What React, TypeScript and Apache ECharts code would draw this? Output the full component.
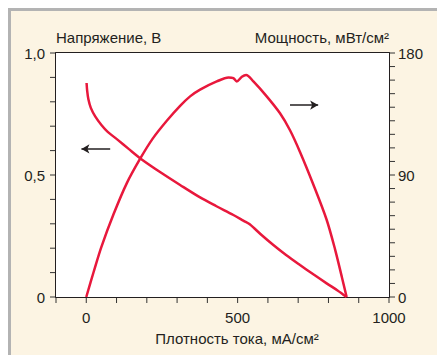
import React, { useEffect, useRef } from "react";
import * as echarts from "echarts";

const FONT = '"Liberation Sans", Arial, Helvetica, sans-serif';
const INK = "#231f20";
const RED = "#e8183c";

// Current density, mA/cm² (x) and cell voltage, V (left axis)
const voltageX = [1, 3, 7, 15, 30, 50, 70, 105, 140, 181, 250, 310, 376, 430, 486, 520, 540, 580, 618, 660, 706, 750, 794, 830, 860];
const voltageY = [0.877, 0.845, 0.81, 0.775, 0.739, 0.705, 0.678, 0.643, 0.607, 0.566, 0.507, 0.459, 0.408, 0.372, 0.336, 0.312, 0.298, 0.253, 0.213, 0.172, 0.131, 0.093, 0.056, 0.027, 0];

// Current density, mA/cm² (x) and power density, mW/cm² (right axis)
const powerX = [0, 25, 50, 90, 134, 178, 220, 266, 310, 343, 376, 431, 470, 486, 497, 514, 528, 552, 596, 640, 673, 706, 750, 794, 822, 844, 860];
const powerY = [0, 19, 37, 61, 84, 102, 117, 130, 141, 148, 153, 159, 162, 161.5, 159, 162.5, 163.8, 159, 148, 135.5, 123, 107, 83, 57, 35, 15, 0];

// Labelled ticks
const xTickLabels = [0, 500, 1000];
const leftTickLabels = [0, 0.5, 1.0];
const rightTickLabels = [0, 90, 180];

// All tick marks
const xTickValues = [-100, 0, 100, 200, 300, 400, 500, 600, 700, 800, 900, 1000];
const leftTickValues = [0, 0.1, 0.2, 0.3, 0.4, 0.5, 0.6, 0.7, 0.8, 0.9, 1.0];
const rightTickValues = [0, 10, 20, 30, 40, 50, 60, 70, 80, 90, 100, 110, 120, 130, 140, 150, 160, 170, 180];

const leftTitle = "Напряжение, В";
const rightTitle = "Мощность, мВт/см²";
const bottomTitle = "Плотность тока, мА/см²";

// Arrow annotations (data coordinates)
const leftArrow = { x0: -16, x1: 79, v: 0.607 };
const rightArrow = { x0: 673, x1: 766, p: 141.6 };

const X_MIN = -100;
const X_MAX = 1000;

function tickSeries(
  data: number[][],
  yAxisIndex: number,
  dir: "down" | "left" | "right"
) {
  return {
    type: "custom",
    xAxisIndex: 0,
    yAxisIndex,
    silent: true,
    clip: false,
    z: 10,
    data,
    renderItem: (_params: any, api: any) => {
      const p = api.coord([api.value(0), api.value(1)]);
      const L = 5;
      let shape;
      if (dir === "down") shape = { x1: p[0], y1: p[1] + 1, x2: p[0], y2: p[1] + 1 + L };
      else if (dir === "left") shape = { x1: p[0] - 1, y1: p[1], x2: p[0] - 1 - L, y2: p[1] };
      else shape = { x1: p[0] + 1, y1: p[1], x2: p[0] + 1 + L, y2: p[1] };
      return { type: "line", shape, style: { stroke: "#333", lineWidth: 1 } };
    },
  };
}

export default function App() {
  const ref = useRef<HTMLDivElement>(null);

  useEffect(() => {
    const chart = echarts.init(ref.current!, null, { renderer: "svg" });
    const labelStyle = { fontSize: 15, fontFamily: FONT, color: INK };
    const axisLine = { show: true, onZero: false, lineStyle: { color: INK, width: 2 } };
    chart.setOption({
      animation: false,
      grid: { left: 56, right: 48, top: 53, bottom: 58 },
      xAxis: [
        {
          type: "value",
          position: "bottom",
          min: X_MIN,
          max: X_MAX,
          interval: 100,
          axisLine: { ...axisLine },
          axisTick: { show: false },
          splitLine: { show: false },
          axisLabel: {
            ...labelStyle,
            margin: 13,
            formatter: (v: number) => (xTickLabels.some((t) => Math.abs(t - v) < 1e-6) ? String(v) : ""),
          },
        },
        {
          type: "value",
          position: "top",
          min: X_MIN,
          max: X_MAX,
          interval: 100,
          axisLine: { ...axisLine },
          axisTick: { show: false },
          axisLabel: { show: false },
          splitLine: { show: false },
        },
      ],
      yAxis: [
        {
          type: "value",
          min: 0,
          max: 1,
          interval: 0.1,
          position: "left",
          name: leftTitle,
          nameLocation: "end",
          nameGap: 8,
          nameTextStyle: { ...labelStyle, align: "left" },
          axisLine: { ...axisLine },
          axisTick: { show: false },
          splitLine: { show: false },
          axisLabel: {
            ...labelStyle,
            margin: 11,
            formatter: (v: number) => {
              const hit = leftTickLabels.find((t) => Math.abs(t - v) < 1e-6);
              if (hit === undefined) return "";
              return hit === 0 ? "0" : hit.toFixed(1).replace(".", ",");
            },
          },
        },
        {
          type: "value",
          min: 0,
          max: 180,
          interval: 10,
          position: "right",
          name: rightTitle,
          nameLocation: "end",
          nameGap: 8,
          nameTextStyle: { ...labelStyle, align: "right" },
          axisLine: { ...axisLine },
          axisTick: { show: false },
          splitLine: { show: false },
          axisLabel: {
            ...labelStyle,
            margin: 9,
            formatter: (v: number) => (rightTickLabels.some((t) => Math.abs(t - v) < 1e-6) ? String(v) : ""),
          },
        },
      ],
      graphic: [
        {
          type: "text",
          x: 237,
          y: 338,
          style: {
            text: bottomTitle,
            fontSize: 15,
            fontFamily: FONT,
            fill: INK,
            textAlign: "center",
            textVerticalAlign: "middle",
          },
        },
      ],
      series: [
        {
          type: "line",
          name: "voltage",
          xAxisIndex: 0,
          yAxisIndex: 0,
          data: voltageX.map((x, i) => [x, voltageY[i]]),
          showSymbol: false,
          smooth: 0.3,
          lineStyle: { color: RED, width: 2.5 },
          markArea: {
            silent: true,
            itemStyle: { color: "#ffffff", opacity: 1 },
            data: [[{ coord: [X_MIN, 0] }, { coord: [X_MAX, 1] }]],
          },
          markLine: {
            silent: true,
            symbol: ["arrow", "none"],
            symbolSize: [7, 8],
            label: { show: false },
            lineStyle: { color: INK, width: 1.5, type: "solid" },
            data: [[{ coord: [leftArrow.x0, leftArrow.v] }, { coord: [leftArrow.x1, leftArrow.v] }]],
          },
        },
        {
          type: "line",
          name: "power",
          xAxisIndex: 0,
          yAxisIndex: 1,
          data: powerX.map((x, i) => [x, powerY[i]]),
          showSymbol: false,
          smooth: 0.3,
          lineStyle: { color: RED, width: 2.5 },
          markLine: {
            silent: true,
            symbol: ["none", "arrow"],
            symbolSize: [7, 8],
            label: { show: false },
            lineStyle: { color: INK, width: 1.5, type: "solid" },
            data: [[{ coord: [rightArrow.x0, rightArrow.p] }, { coord: [rightArrow.x1, rightArrow.p] }]],
          },
        },
        tickSeries(xTickValues.map((v) => [v, 0]), 0, "down"),
        tickSeries(leftTickValues.map((v) => [X_MIN, v]), 0, "left"),
        tickSeries(rightTickValues.map((v) => [X_MAX, v]), 1, "right"),
      ],
    });
    return () => chart.dispose();
  }, []);

  return (
    <div style={{ position: "fixed", left: 0, top: 0, width: 437, height: 355, background: "#ffffff", overflow: "hidden" }}>
      <div
        style={{
          position: "absolute",
          left: 8,
          top: 8,
          width: 460,
          height: 380,
          background: "#fcf4e3",
          borderLeft: "3px solid #b3b3b3",
          borderTop: "3px solid #b3b3b3",
        }}
      />
      <div ref={ref} style={{ position: "absolute", left: 0, top: 0, width: 437, height: 355 }} />
    </div>
  );
}
